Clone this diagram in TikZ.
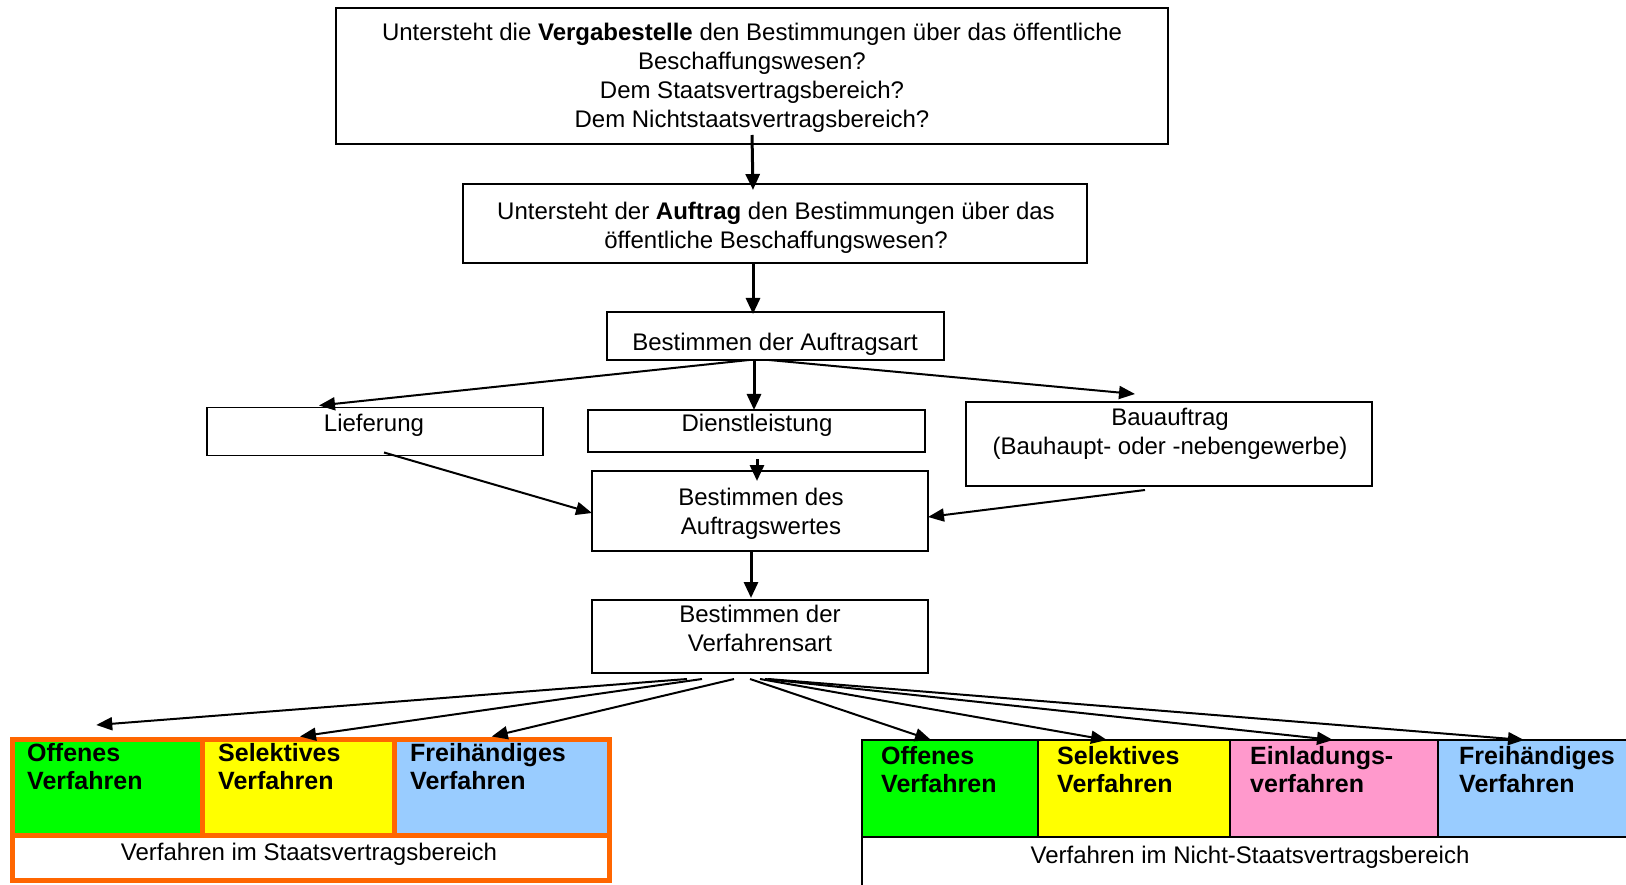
\documentclass[tikz,border=0pt]{standalone}
\usepackage{fontspec}
\setmainfont{Liberation Sans}
\usetikzlibrary{arrows.meta}
\definecolor{cgreen}{HTML}{00FF00}
\definecolor{cyellow}{HTML}{FFFF00}
\definecolor{cpink}{HTML}{FF99CC}
\definecolor{cblue}{HTML}{99CCFF}
\definecolor{corange}{HTML}{FF6600}
\begin{document}
\begin{tikzpicture}[x=1pt,y=-1pt,
  box/.style={draw=black, line width=1.6pt, inner sep=0pt, outer sep=0pt, fill=white},
  txt/.style={font=\fontsize{24}{29}\selectfont, align=center, inner sep=0pt},
  btxt/.style={font=\fontsize{25}{28.5}\selectfont\bfseries, align=left, inner sep=0pt, anchor=north west},
  cellL/.style={draw=corange, line width=5pt, inner sep=0pt, outer sep=0pt},
  cellR/.style={draw=black, line width=1.8pt, inner sep=0pt, outer sep=0pt},
  arr/.style={line width=3pt, -{Triangle[length=16pt,width=14pt]}},
  darr/.style={line width=2pt, -{Triangle[length=16pt,width=13pt]}}
]
\clip (0,0) rectangle (1626,885);
\fill[white] (0,0) rectangle (1626,885);

% boxes
\node[box, minimum width=832pt, minimum height=136pt] (b1) at (752,76) {};
\node[box, minimum width=624pt, minimum height=79pt] (b2) at (775,223.5) {};
\node[box, minimum width=337pt, minimum height=48pt] (b3) at (775.5,336) {};
\node[box, minimum width=336pt, minimum height=48pt] (lief) at (375,431.5) {};
\node[box, minimum width=337pt, minimum height=42pt] (dienst) at (756.5,431) {};
\node[box, minimum width=406pt, minimum height=84pt] (bau) at (1169,444) {};
\node[box, minimum width=336pt, minimum height=80pt] (b5) at (760,511) {};
\node[box, minimum width=336pt, minimum height=73pt] (b6) at (760,636.5) {};

% texts
\node[txt] (t1) at (752,77.5) {Untersteht die \textbf{Vergabestelle} den Bestimmungen über das öffentliche\\Beschaffungswesen?\\Dem Staatsvertragsbereich?\\Dem Nichtstaatsvertragsbereich?};
\node[txt] (t2) at (776,228) {Untersteht der \textbf{Auftrag} den Bestimmungen über das\\öffentliche Beschaffungswesen?};
\node[txt] (t3) at (775,344) {Bestimmen der Auftragsart};
\node[txt] (t4) at (374,425) {Lieferung};
\node[txt] (t5) at (757,425) {Dienstleistung};
\node[txt] (t6) at (1170,434) {Bauauftrag\\(Bauhaupt- oder -nebengewerbe)};
\node[txt] (t7) at (761,513.5) {Bestimmen des\\Auftragswertes};
\node[txt] (t8) at (760,628) {Bestimmen der\\Verfahrensart};

% left group (Staatsvertragsbereich)
\node[cellL, fill=cgreen, minimum width=189.5pt, minimum height=95.5pt] (lg) at (107.25,787.25) {};
\node[cellL, fill=cyellow, minimum width=192pt, minimum height=95.5pt] (ly) at (298,787.25) {};
\node[cellL, fill=cblue, minimum width=215.5pt, minimum height=95.5pt] (lb) at (501.75,787.25) {};
\node[cellL, fill=white, minimum width=597pt, minimum height=45.5pt] (ll) at (311,857.75) {};
\node[btxt] at (27,743) {Offenes\\Verfahren};
\node[btxt] at (218,743) {Selektives\\Verfahren};
\node[btxt] at (410,743) {Freihändiges\\Verfahren};
\node[txt] (tl) at (309,854) {Verfahren im Staatsvertragsbereich};

% right group (Nicht-Staatsvertragsbereich)
\node[cellR, fill=cgreen, minimum width=176pt, minimum height=97pt] (rg) at (950,788.5) {};
\node[cellR, fill=cyellow, minimum width=192pt, minimum height=97pt] (ry) at (1134,788.5) {};
\node[cellR, fill=cpink, minimum width=208pt, minimum height=97pt] (rp) at (1334,788.5) {};
\node[cellR, fill=cblue, minimum width=202pt, minimum height=97pt] (rb) at (1539,788.5) {};
\coordinate (rbot) at (862,890);
\draw[line width=1.8pt] (rg.south west) -- (rg.south west |- rbot);
\node[btxt] at (881,746) {Offenes\\Verfahren};
\node[btxt] at (1057,746) {Selektives\\Verfahren};
\node[btxt] at (1250,746) {Einladungs-\\verfahren};
\node[btxt] at (1459,746) {Freihändiges\\Verfahren};
\node[txt] (tr) at (1250,857) {Verfahren im Nicht-Staatsvertragsbereich};

% connectors
\draw[arr] ([yshift=9pt]b1.south) -- ([xshift=-22pt,yshift=-6pt]b2.north);
\draw[arr] ([xshift=-22pt]b2.south) -- ([xshift=-22.5pt,yshift=-2pt]b3.north);
\draw[darr] ([xshift=-26.5pt]b3.south) -- ([xshift=-56pt,yshift=2pt]lief.north);
\draw[arr] ([xshift=-21.5pt]b3.south) -- ([xshift=-2.5pt]dienst.north);
\draw[darr] ([xshift=-6.5pt]b3.south) -- ([xshift=-34pt,yshift=8pt]bau.north);
\draw[arr] ([xshift=0.5pt,yshift=-7pt]dienst.south) -- ([xshift=-3pt,yshift=-10pt]b5.north);
\draw[darr] ([xshift=9pt,yshift=3pt]lief.south) -- ([yshift=-2pt]b5.west);
\draw[darr] ([xshift=-24pt,yshift=-4pt]bau.south) -- ([yshift=-6pt]b5.east);
\draw[arr] ([xshift=-9pt]b5.south) -- ([xshift=-9pt,yshift=2pt]b6.north);

\coordinate (o1) at ([xshift=-73pt,yshift=-6pt]b6.south);
\coordinate (o2) at ([xshift=-58pt,yshift=-6pt]b6.south);
\coordinate (o3) at ([xshift=-26pt,yshift=-6pt]b6.south);
\coordinate (o4) at ([xshift=-10pt,yshift=-6pt]b6.south);
\coordinate (o5) at ([xshift=0pt,yshift=-6pt]b6.south);
\coordinate (o6) at ([xshift=5pt,yshift=-6pt]b6.south);
\coordinate (o7) at ([xshift=8pt,yshift=-6pt]b6.south);
\draw[darr] (o1) -- ([xshift=-11pt,yshift=14.5pt]lg.north);
\draw[darr] (o2) -- ([xshift=2pt,yshift=3pt]ly.north);
\draw[darr] (o3) -- ([xshift=-10pt,yshift=3pt]lb.north);
\draw[darr] (o4) -- ([xshift=-19pt]rg.north);
\draw[darr] (o5) -- ([xshift=-27pt]ry.north);
\draw[darr] (o6) -- ([xshift=-1pt]rp.north);
\draw[darr] (o7) -- ([xshift=-15pt]rb.north);
\end{tikzpicture}
\end{document}
